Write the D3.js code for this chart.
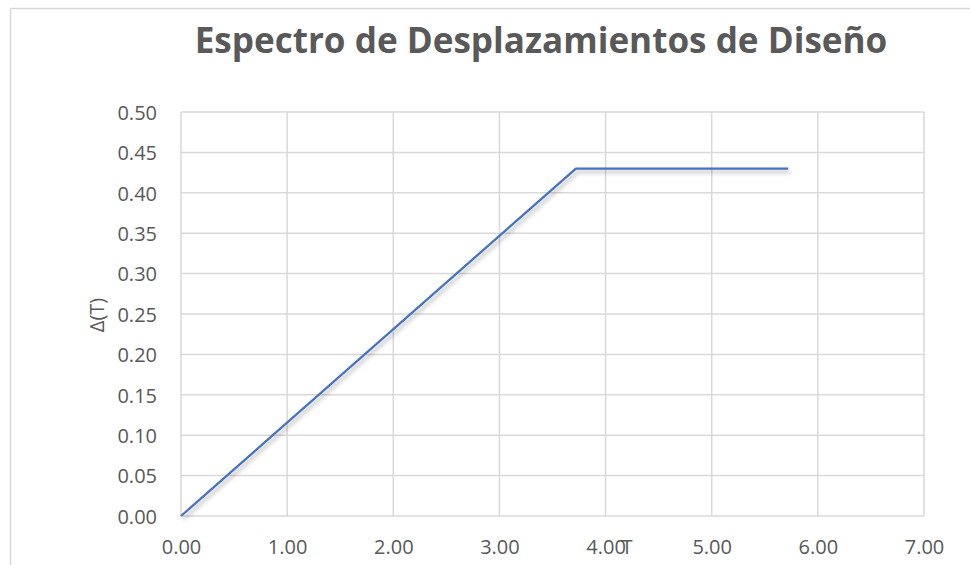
<!DOCTYPE html>
<html>
<head>
<meta charset="utf-8">
<script src="https://cdn.jsdelivr.net/npm/d3@7"></script>
<style>
  html, body { margin: 0; padding: 0; background: #fff; }
  svg { display: block; }
  text { font-family: "Open Sans", "Liberation Sans", sans-serif; fill: #595959; }
</style>
</head>
<body>
<svg id="chart" width="970" height="565"></svg>
<script>
// Design displacement spectrum: period T (s) vs displacement Δ(T) (m)
const periodT = [0, 3.72, 5.72];
const displacement = [0, 0.43, 0.43];
const xTicks = [0, 1, 2, 3, 4, 5, 6, 7];
const yTicks = [0, 0.05, 0.10, 0.15, 0.20, 0.25, 0.30, 0.35, 0.40, 0.45, 0.50];
const chartTitle = "Espectro de Desplazamientos de Diseño";
const xTitle = "T";
const yTitle = "Δ(T)";

const svg = d3.select("#chart");
const W = 970, H = 565;
const plot = { left: 181, right: 924, top: 112, bottom: 516 };
const labelSize = 20;

const x = d3.scaleLinear().domain([0, 7]).range([plot.left, plot.right]);
const y = d3.scaleLinear().domain([0, 0.5]).range([plot.bottom, plot.top]);

// outer chart frame
svg.append("rect")
  .attr("x", 10.5).attr("y", 8.5)
  .attr("width", W + 20).attr("height", H + 20)
  .attr("fill", "#fff").attr("stroke", "#d9d9d9").attr("stroke-width", 1.5);

// drop shadow for the series line
const defs = svg.append("defs");
const f = defs.append("filter").attr("id", "shadow")
  .attr("x", "-10%").attr("y", "-10%").attr("width", "130%").attr("height", "140%");
f.append("feDropShadow")
  .attr("dx", 2).attr("dy", 3).attr("stdDeviation", 2.2)
  .attr("flood-color", "#000").attr("flood-opacity", 0.3);

// gridlines
const grid = svg.append("g");
grid.selectAll(".gx").data(xTicks).join("line")
  .attr("x1", d => x(d)).attr("x2", d => x(d))
  .attr("y1", plot.top).attr("y2", plot.bottom)
  .attr("stroke", "#d9d9d9").attr("stroke-width", 1.5);
grid.selectAll(".gy").data(yTicks).join("line")
  .attr("x1", plot.left).attr("x2", plot.right)
  .attr("y1", d => y(d)).attr("y2", d => y(d))
  .attr("stroke", "#d9d9d9").attr("stroke-width", 1.5);

// axes (labels only, no domain or tick marks)
const xAxis = svg.append("g")
  .attr("transform", `translate(0,${plot.bottom})`)
  .call(d3.axisBottom(x).tickValues(xTicks).tickFormat(d3.format(".2f")).tickSize(0));
const yAxis = svg.append("g")
  .attr("transform", `translate(${plot.left},0)`)
  .call(d3.axisLeft(y).tickValues(yTicks).tickFormat(d3.format(".2f")).tickSize(0).tickPadding(24));
[xAxis, yAxis].forEach(a => {
  a.select(".domain").remove();
  a.selectAll("text")
    .style("font-family", '"Open Sans", sans-serif')
    .style("font-size", labelSize + "px")
    .attr("fill", "#595959");
});
xAxis.selectAll("text").attr("dy", null).attr("y", 38);
yAxis.selectAll("text").attr("dy", "0.36em");

// series line
const line = d3.line().x((d, i) => x(periodT[i])).y(d => y(d));
svg.append("path")
  .datum(displacement)
  .attr("d", line)
  .attr("fill", "none")
  .attr("stroke", "#4472c4")
  .attr("stroke-width", 2.25)
  .attr("stroke-linejoin", "round")
  .attr("filter", "url(#shadow)");

// title
const title = svg.append("text")
  .attr("x", 541).attr("y", 53)
  .attr("text-anchor", "middle")
  .style("font-size", "35px").style("font-weight", "bold")
  .text(chartTitle);
const tw = title.node().getComputedTextLength();
title.style("font-size", (35 * 693 / tw).toFixed(2) + "px");

// axis titles
svg.append("text")
  .attr("x", 627).attr("y", 554)
  .attr("text-anchor", "middle")
  .style("font-size", labelSize + "px")
  .text(xTitle);
svg.append("text")
  .attr("transform", "translate(104,315) rotate(-90)")
  .attr("text-anchor", "middle")
  .style("font-size", labelSize + "px")
  .text(yTitle);
</script>
</body>
</html>
